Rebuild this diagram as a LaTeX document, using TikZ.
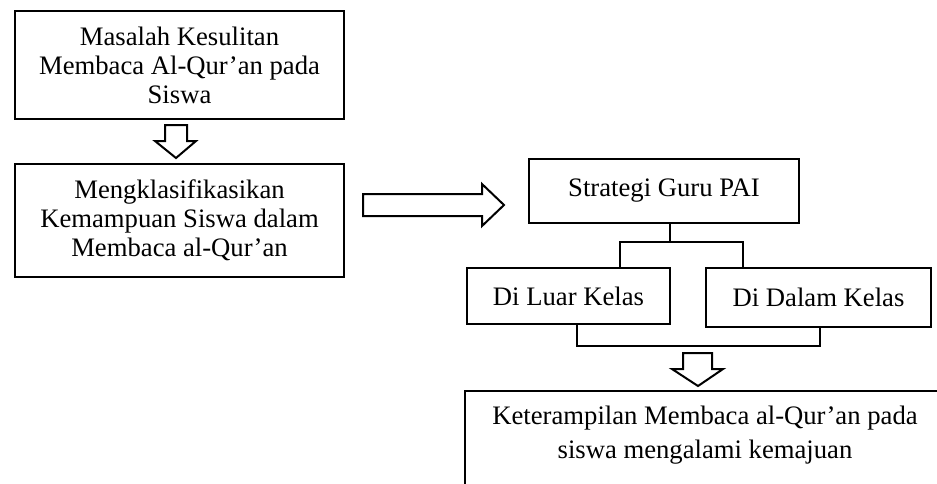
\documentclass[tikz,border=0pt]{standalone}
\usepackage{fontspec}
\setmainfont{Liberation Serif}
\usepackage{tikz}
\usetikzlibrary{calc,positioning}

\tikzset{
  kotak/.style={draw, line width=1.5pt, inner sep=0pt, align=center},
  panah/.style={draw, line width=1.5pt, fill=white, line join=miter},
  garis/.style={draw, line width=0.8pt}
}

\begin{document}
\begin{tikzpicture}[x=0.75pt, y=-0.75pt, font=\fontsize{20}{21.75}\selectfont]
        \useasboundingbox (0,0) rectangle (937,483);

        % Kotak kiri
        \node[kotak, minimum width=246.75pt, minimum height=81pt] (masalah) at (179.5,65)
            {Masalah Kesulitan\\ Membaca Al-Qur’an pada\\ Siswa};
        \node[kotak, minimum width=246.75pt, minimum height=84.75pt] (klasifikasi) at (179.5,220.5)
            {Mengklasifikasikan\\ Kemampuan Siswa dalam\\ Membaca al-Qur’an};

        % Kotak kanan
        \node[kotak, minimum width=202.5pt, minimum height=48pt] (strategi) at (664,191) {Strategi Guru PAI};
        \node[kotak, minimum width=152.25pt, minimum height=42pt] (luar) at (568.5,296) {Di Luar Kelas};
        \node[kotak, minimum width=168.75pt, minimum height=44.25pt] (dalam) at (818.5,297.5) {Di Dalam Kelas};

        % Kotak hasil (terpotong di tepi gambar)
        \node[kotak, anchor=north west, minimum width=360pt, inner ysep=6pt,
              text height=44.25pt, text depth=150pt,
              font=\fontsize{20}{25.5}\selectfont] (hasil) at (464,390)
            {Keterampilan Membaca al-Qur’an pada\\ siswa mengalami kemajuan};

        % Garis cabang
        \coordinate (cabang) at (670,242);
        \coordinate (kiri) at (620,242);
        \coordinate (kanan) at (743,242);
        \draw[garis] (strategi.south -| cabang) -- (cabang);
        \draw[garis] (luar.north -| kiri) -- (kiri) -- (kanan) -- (dalam.north -| kanan);

        \coordinate (bkiri) at (577,346);
        \coordinate (bkanan) at (820,346);
        \draw[garis] (luar.south -| bkiri) -- (bkiri) -- (bkanan) -- (dalam.south -| bkanan);

        % Panah blok
        \draw[panah] (165,125) -- (187,125) -- (187,141) -- (196,141) -- (176,158)
            -- (155,141) -- (165,141) -- cycle;
        \draw[panah] (363,194) -- (482,194) -- (482,184) -- (504,205) -- (482,226)
            -- (482,216) -- (363,216) -- cycle;
        \draw[panah] (683,353) -- (712,353) -- (712,369) -- (723,369) -- (698,386)
            -- (672,369) -- (683,369) -- cycle;
    \end{tikzpicture}
\end{document}
